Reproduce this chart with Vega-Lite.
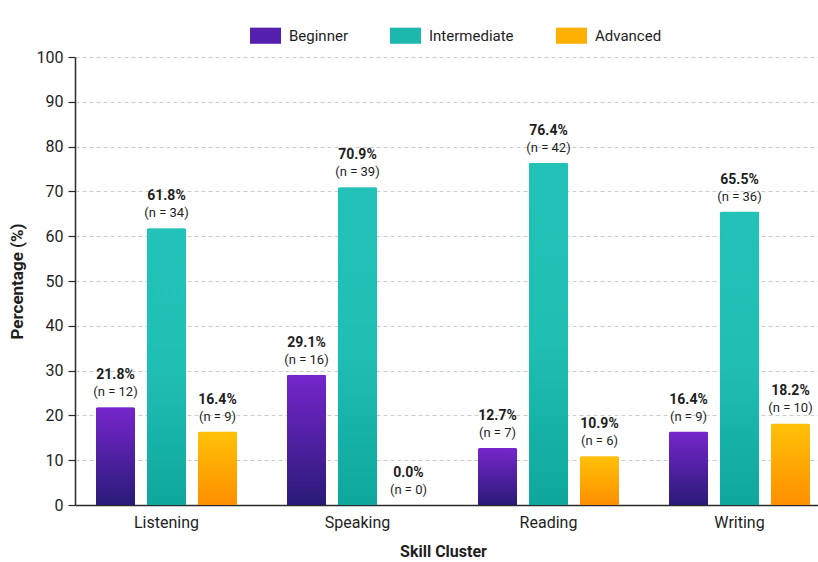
{
  "$schema": "https://vega.github.io/schema/vega-lite/v6.json",
  "autosize": {"type": "none"},
  "padding": {"left": 75, "top": 57, "right": 0, "bottom": 57},
  "width": 743,
  "height": 448,
  "background": "#ffffff",
  "config": {
    "font": "Roboto",
    "view": {"stroke": null},
    "axis": {
      "labelFont": "Roboto",
      "titleFont": "Roboto",
      "labelColor": "#1e1e1e",
      "titleColor": "#1e1e1e",
      "domainColor": "#2a2a2a",
      "domainWidth": 1.5,
      "tickColor": "#2a2a2a",
      "tickWidth": 1.2
    },
    "legend": {"padding": 0}
  },
  "data": {
    "values": [
      {"skill": "Listening", "level": "Beginner", "pct": 21.8, "pctText": "21.8%", "nText": "(n = 12)"},
      {"skill": "Listening", "level": "Intermediate", "pct": 61.8, "pctText": "61.8%", "nText": "(n = 34)"},
      {"skill": "Listening", "level": "Advanced", "pct": 16.4, "pctText": "16.4%", "nText": "(n = 9)"},
      {"skill": "Speaking", "level": "Beginner", "pct": 29.1, "pctText": "29.1%", "nText": "(n = 16)"},
      {"skill": "Speaking", "level": "Intermediate", "pct": 70.9, "pctText": "70.9%", "nText": "(n = 39)"},
      {"skill": "Speaking", "level": "Advanced", "pct": 0.0, "pctText": "0.0%", "nText": "(n = 0)"},
      {"skill": "Reading", "level": "Beginner", "pct": 12.7, "pctText": "12.7%", "nText": "(n = 7)"},
      {"skill": "Reading", "level": "Intermediate", "pct": 76.4, "pctText": "76.4%", "nText": "(n = 42)"},
      {"skill": "Reading", "level": "Advanced", "pct": 10.9, "pctText": "10.9%", "nText": "(n = 6)"},
      {"skill": "Writing", "level": "Beginner", "pct": 16.4, "pctText": "16.4%", "nText": "(n = 9)"},
      {"skill": "Writing", "level": "Intermediate", "pct": 65.5, "pctText": "65.5%", "nText": "(n = 36)"},
      {"skill": "Writing", "level": "Advanced", "pct": 18.2, "pctText": "18.2%", "nText": "(n = 10)"}
    ]
  },
  "encoding": {
    "x": {
      "field": "skill",
      "type": "nominal",
      "sort": ["Listening", "Speaking", "Reading", "Writing"],
      "scale": {"range": [0, 756], "paddingInner": 0.262, "paddingOuter": 0.11},
      "title": "Skill Cluster",
      "axis": {
        "labelAngle": 0,
        "labelFontSize": 16,
        "labelPadding": 9,
        "ticks": false,
        "titleFontSize": 16,
        "titleFontWeight": "bold",
        "titlePadding": 13,
        "titleX": 368,
        "grid": false
      }
    },
    "xOffset": {
      "field": "level",
      "type": "nominal",
      "sort": ["Beginner", "Intermediate", "Advanced"],
      "scale": {"paddingInner": 0.235, "paddingOuter": 0}
    },
    "y": {
      "field": "pct",
      "type": "quantitative",
      "scale": {"domain": [0, 100], "nice": false},
      "title": "Percentage (%)",
      "axis": {
        "values": [0, 10, 20, 30, 40, 50, 60, 70, 80, 90, 100],
        "labelFontSize": 16,
        "labelPadding": 5,
        "tickSize": 7,
        "titleFontSize": 17,
        "titleFontWeight": "bold",
        "titlePadding": 10,
        "grid": true,
        "gridColor": "#cccccc",
        "gridDash": [4, 3],
        "gridWidth": 1
      }
    }
  },
  "layer": [
    {
      "mark": {"type": "bar", "cornerRadiusTopLeft": 2, "cornerRadiusTopRight": 2},
      "encoding": {
        "fill": {
          "field": "level",
          "type": "nominal",
          "sort": ["Beginner", "Intermediate", "Advanced"],
          "scale": {"domain": ["Beginner", "Intermediate", "Advanced"], "range": ["#5520ad", "#1cb8ad", "#ffb000"]},
          "legend": {
            "orient": "none",
            "direction": "horizontal",
            "legendX": 175,
            "legendY": -37,
            "title": null,
            "symbolType": "M-1,-0.52H1V0.52H-1Z",
            "symbolSize": 961,
            "symbolStrokeWidth": 0,
            "labelFontSize": 15,
            "labelFont": "Roboto",
            "labelColor": "#1e1e1e",
            "labelOffset": 8,
            "columnPadding": 42
          }
        }
      }
    },
    {
      "mark": {"type": "bar", "cornerRadiusTopLeft": 2, "cornerRadiusTopRight": 2},
      "encoding": {
        "fill": {
          "condition": [
            {"test": "datum.level === 'Beginner'", "value": {"gradient": "linear", "x1": 0, "y1": 0, "x2": 0, "y2": 1, "stops": [{"offset": 0, "color": "#7626cc"}, {"offset": 1, "color": "#2a1a78"}]}},
            {"test": "datum.level === 'Intermediate'", "value": {"gradient": "linear", "x1": 0, "y1": 0, "x2": 0, "y2": 1, "stops": [{"offset": 0, "color": "#22c2b8"}, {"offset": 0.5, "color": "#20bfb4"}, {"offset": 1, "color": "#0fa79c"}]}}
          ],
          "value": {"gradient": "linear", "x1": 0, "y1": 0, "x2": 0, "y2": 1, "stops": [{"offset": 0, "color": "#ffc107"}, {"offset": 1, "color": "#ff8f00"}]}
        }
      }
    },
    {
      "mark": {"type": "text", "baseline": "bottom", "dy": -8, "fontSize": 13, "color": "#1e1e1e", "font": "Roboto"},
      "encoding": {"text": {"field": "nText"}}
    },
    {
      "mark": {"type": "text", "baseline": "bottom", "dy": -25, "fontSize": 14, "fontWeight": "bold", "color": "#1e1e1e", "font": "Roboto"},
      "encoding": {"text": {"field": "pctText"}}
    }
  ]
}
